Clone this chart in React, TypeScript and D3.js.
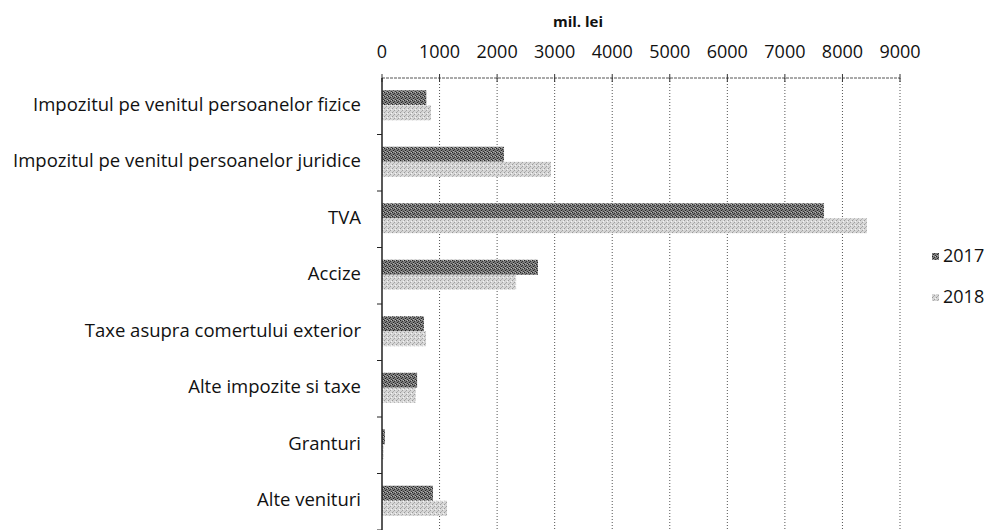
import React from 'react';
import * as d3 from 'd3';

const categories = [
  'Impozitul pe venitul persoanelor fizice',
  'Impozitul pe venitul persoanelor juridice',
  'TVA',
  'Accize',
  'Taxe asupra comertului exterior',
  'Alte impozite si taxe',
  'Granturi',
  'Alte venituri',
];
const values2017 = [770, 2120, 7680, 2710, 730, 610, 50, 885];
const values2018 = [850, 2935, 8425, 2330, 765, 590, 30, 1130];
const xTicks = [0, 1000, 2000, 3000, 4000, 5000, 6000, 7000, 8000, 9000];
const seriesNames = ['2017', '2018'];

const W = 997;
const H = 530;
const FONT = '"Open Sans", sans-serif';

export default function App() {
  // dimensions
  const left = 382;
  const right = 900;
  const top = 78;
  const bottom = 530;

  const x = d3.scaleLinear().domain([0, 9000]).range([left, right]);
  const y = d3.scaleBand().domain(categories).range([top, bottom]).paddingInner(0).paddingOuter(0);
  const bw = y.bandwidth();
  const barH = 15;
  const off = (bw - 2 * barH) / 2 - 1;

  const series = [values2017, values2018];
  const fills = ['url(#p2017)', 'url(#p2018)'];

  return (
    <svg width={W} height={H} style={{ position: 'absolute', left: 0, top: 0, background: '#fff' }}>
      <defs>
        <pattern id="p2017" width="4" height="4" patternUnits="userSpaceOnUse">
          <rect width="4" height="4" fill="#7a7a7a" />
          <rect x="0" y="0" width="1" height="1" fill="#222" />
          <rect x="2" y="1" width="1" height="1" fill="#333" />
          <rect x="1" y="2" width="1" height="1" fill="#222" />
          <rect x="3" y="3" width="1" height="1" fill="#333" />
          <rect x="3" y="0" width="1" height="1" fill="#bbb" />
          <rect x="1" y="3" width="1" height="1" fill="#aaa" />
        </pattern>
        <pattern id="p2018" width="4" height="4" patternUnits="userSpaceOnUse">
          <rect width="4" height="4" fill="#d6d6d6" />
          <rect x="0" y="0" width="1" height="1" fill="#999" />
          <rect x="2" y="2" width="1" height="1" fill="#a0a0a0" />
          <rect x="3" y="1" width="1" height="1" fill="#f4f4f4" />
          <rect x="1" y="3" width="1" height="1" fill="#b0b0b0" />
        </pattern>
      </defs>

      {/* title */}
      <text x={578} y={27} textAnchor="middle" fontFamily={FONT} fontSize={15} fontWeight="bold" fill="#111">
        mil. lei
      </text>

      {/* gridlines */}
      {xTicks.slice(1).map(t => (
        <line key={t} x1={x(t)} x2={x(t)} y1={top} y2={bottom} stroke="#555" strokeWidth={1} strokeDasharray="1,2" />
      ))}

      {/* top axis */}
      <line x1={left} x2={right} y1={top} y2={top} stroke="#555" strokeWidth={1} strokeDasharray="3,1" />
      {xTicks.map(t => (
        <g key={t}>
          <line x1={x(t)} x2={x(t)} y1={top - 4} y2={top + 4} stroke="#333" />
          <text x={x(t)} y={52} dy="0.35em" textAnchor="middle" fontFamily={FONT} fontSize={18} fill="#111">
            {t}
          </text>
        </g>
      ))}

      {/* bars */}
      {series.map((vals, si) =>
        vals.map((v, i) => (
          <rect
            key={`${si}-${i}`}
            x={x(0)}
            y={(y(categories[i]) as number) + off + si * barH}
            width={x(v) - x(0)}
            height={barH}
            fill={fills[si]}
          />
        ))
      )}

      {/* left axis */}
      <line x1={left} x2={left} y1={top} y2={bottom} stroke="#222" strokeWidth={1.5} />
      {categories.map(c => (
        <line key={c} x1={left - 5} x2={left} y1={(y(c) as number) + bw} y2={(y(c) as number) + bw} stroke="#222" />
      ))}

      {/* category labels */}
      {categories.map(c => (
        <text
          key={c}
          x={361}
          y={(y(c) as number) + bw / 2 - 2}
          dy="0.35em"
          textAnchor="end"
          fontFamily={FONT}
          fontSize={18.5}
          fill="#111"
        >
          {c}
        </text>
      ))}

      {/* legend */}
      {seriesNames.map((s, i) => (
        <g key={s} transform={`translate(932,${256 + i * 41})`}>
          <rect x={0} y={-3} width={7} height={7} fill={fills[i]} />
          <text x={11} y={0} dy="0.35em" fontFamily={FONT} fontSize={18} fill="#111">
            {s}
          </text>
        </g>
      ))}
    </svg>
  );
}
